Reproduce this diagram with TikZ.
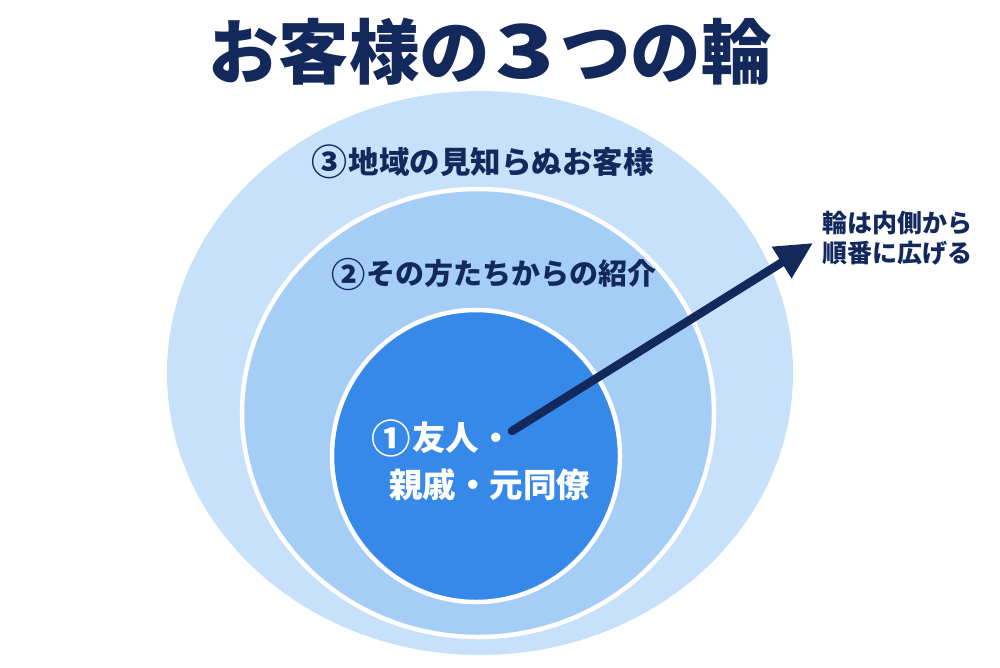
\documentclass[tikz,border=0pt]{standalone}
\usepackage{fontspec}
\setmainfont{Noto Sans CJK JP}[BoldFont={Noto Sans CJK JP Bold}]
\newfontfamily\blackfont{Noto Sans CJK JP Black}
\usetikzlibrary{arrows.meta}
\definecolor{navy}{HTML}{13295B}
\definecolor{ringout}{HTML}{C6E1F9}
\definecolor{ringmid}{HTML}{A5CEF6}
\definecolor{ringin}{HTML}{3689E9}
\newcommand{\bignum}[1]{\raisebox{-0.07em}{\scalebox{1.18}{#1}}\hspace{0.05em}}
\tikzset{
  ring/.style={draw=white, line width=4.5pt},
  ringlabel/.style={font=\blackfont\fontsize{30.5}{30.5}\selectfont, text=navy, inner sep=0pt, anchor=west},
  innerlabel/.style={font=\blackfont\fontsize{33.5}{33.5}\selectfont, text=white, inner sep=0pt, anchor=west},
  notelabel/.style={font=\blackfont\fontsize{25}{30}\selectfont, text=navy, inner sep=0pt, anchor=west, align=left},
  bigarrow/.style={draw=navy, line width=8.5pt, line cap=round, -{Triangle[length=37pt,width=35pt]}}
}
\begin{document}
\begin{tikzpicture}[x=1pt,y=-1pt]
\useasboundingbox (0,0) rectangle (1000,667);
\fill[white] (0,0) rectangle (1000,667);
% rings
\fill[ringout] (480,373) ellipse [x radius=313pt, y radius=282pt];
\fill[ringmid] (478,413) ellipse [x radius=236pt, y radius=224pt];
\draw[ring] (478,413) ellipse [x radius=236pt, y radius=224pt];
\fill[ringin] (476,456) ellipse [x radius=144pt, y radius=146pt];
\draw[ring] (476,456) ellipse [x radius=144pt, y radius=146pt];
% title
\node[font=\blackfont\fontsize{70.5}{70.5}\selectfont, text=navy, inner sep=0pt, anchor=west] (title) at (208,52) {お客様の\makebox[70pt]{\scalebox{1.38}[1.05]{3}}つの輪};
% labels
\node[ringlabel] (r3) at (311,162) {\bignum{③}地域の見知らぬお客様};
\node[ringlabel, font=\blackfont\fontsize{29}{29}\selectfont] (r2) at (331,274) {\bignum{②}その方たちからの紹介};
\node[innerlabel] (r1a) at (371,438) {\bignum{①}友人・};
\node[innerlabel] (r1b) at (389,485) {親戚・元同僚};
% arrow
\coordinate (astart) at (512,431);
\coordinate (atip) at (813,243);
\draw[bigarrow] (astart) -- (atip);
\node[notelabel] (note) at (822,238) {輪は内側から\\順番に広げる};
\end{tikzpicture}
\end{document}
